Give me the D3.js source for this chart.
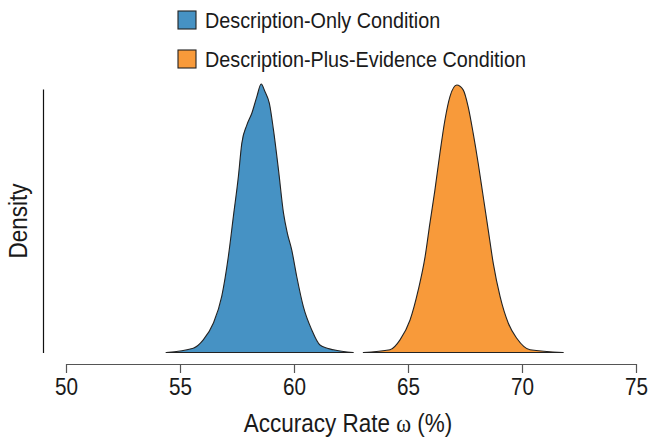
<!DOCTYPE html>
<meta charset="utf-8">
<title>accuracy rate density</title>
<style>
body { margin: 0; background: #fff; }
svg { display: block; }
text { font-family: 'Liberation Sans', Arial, sans-serif; fill: #1a1a1a; }
</style>
<svg id="chart"></svg>
<script src="https://cdnjs.cloudflare.com/ajax/libs/d3/7.8.5/d3.min.js"></script>
<script>
// posterior densities (density scaled so the blue peak = 1)
var conditions = ["Description-Only Condition", "Description-Plus-Evidence Condition"];
var colors = ["#4692c4", "#f89a3a"];
var xTicks = [50, 55, 60, 65, 70, 75];

var descOnly = [
	[54.39, 0], [55.58, 0.016], [56.02, 0.047], [56.46, 0.109], [56.83, 0.209],
	[57.12, 0.357], [57.34, 0.506], [57.56, 0.655], [57.71, 0.779], [57.93, 0.847],
	[58.15, 0.891], [58.37, 0.953], [58.56, 1.0], [58.73, 0.971], [58.92, 0.928],
	[59.10, 0.829], [59.32, 0.680], [59.54, 0.519], [59.71, 0.444], [59.90, 0.382],
	[60.12, 0.283], [60.41, 0.171], [60.78, 0.084], [61.14, 0.028], [61.73, 0.010],
	[62.60, 0]
];
var descPlus = [
	[63.04, 0], [64.21, 0.010], [64.65, 0.047], [65.09, 0.121], [65.45, 0.233],
	[65.75, 0.357], [65.96, 0.481], [66.18, 0.605], [66.40, 0.742], [66.62, 0.866],
	[66.84, 0.953], [67.14, 0.996], [67.42, 0.978], [67.64, 0.915], [67.86, 0.816],
	[68.08, 0.704], [68.30, 0.580], [68.52, 0.456], [68.74, 0.332], [69.04, 0.208],
	[69.40, 0.109], [69.77, 0.053], [70.35, 0.010], [71.81, 0]
];
var series = [descOnly, descPlus];

var width = 648, height = 440;
var narrow = 'scale(0.9,1)'; // no condensed font installed, squeeze Liberation Sans a bit
var svg = d3.select('#chart').attr('width', width).attr('height', height);

var x = d3.scaleLinear().domain([50, 75]).range([66, 636]);
var y = d3.scaleLinear().domain([0, 1]).range([352.5, 84]);

// density areas
var area = d3.area()
	.x(function(d) { return x(d[0]) })
	.y0(y(0))
	.y1(function(d) { return y(d[1]) })
	.curve(d3.curveMonotoneX);

svg.append('g').selectAll('path')
	.data(series)
	.enter().append('path')
	.attr('d', area)
	.attr('fill', function(d, i) { return colors[i] })
	.attr('stroke', '#222')
	.attr('stroke-width', 1.1)
	.attr('stroke-linejoin', 'round');

// x axis
var xAxis = svg.append('g')
	.attr('transform', 'translate(0,364)')
	.call(d3.axisBottom(x).tickValues(xTicks).tickSize(9).tickSizeOuter(0).tickPadding(6));
xAxis.select('.domain').attr('stroke', '#555').attr('stroke-width', 1.2);
xAxis.selectAll('.tick line').attr('stroke', '#555').attr('stroke-width', 1.2);
xAxis.selectAll('.tick text')
	.attr('font-size', 23)
	.attr('fill', '#1a1a1a')
	.attr('transform', narrow)
	.style('font-family', "'Liberation Sans', Arial, sans-serif");

// y axis: plain line, no ticks
var yAxis = svg.append('g')
	.attr('transform', 'translate(43,0)')
	.call(d3.axisLeft(y.copy().domain([0, 0.982]).range([352.5, 89])).tickValues([]).tickSizeOuter(0));
yAxis.select('.domain').attr('stroke', '#111').attr('stroke-width', 1.2);

// axis titles
var xt = svg.append('g')
	.attr('transform', 'translate(348,432) ' + narrow)
	.append('text')
	.attr('text-anchor', 'middle')
	.attr('font-size', 25);
xt.append('tspan').text('Accuracy Rate ');
xt.append('tspan').style('font-family', "'Liberation Serif', 'DejaVu Serif', serif").text('ω');
xt.append('tspan').text(' (%)');

svg.append('g')
	.attr('transform', 'translate(27,221) rotate(-90) ' + narrow)
	.append('text')
	.attr('text-anchor', 'middle')
	.attr('font-size', 25)
	.text('Density');

// legend
var legend = svg.append('g').selectAll('g')
	.data(conditions)
	.enter().append('g')
	.attr('transform', function(d, i) { return 'translate(178,' + (11 + i * 39) + ')' });
legend.append('rect')
	.attr('width', 18)
	.attr('height', 18)
	.attr('fill', function(d, i) { return colors[i] })
	.attr('stroke', '#222')
	.attr('stroke-width', 1.1);
legend.append('g')
	.attr('transform', 'translate(27,17) ' + narrow)
	.append('text')
	.attr('font-size', 22)
	.text(function(d) { return d });
</script>
